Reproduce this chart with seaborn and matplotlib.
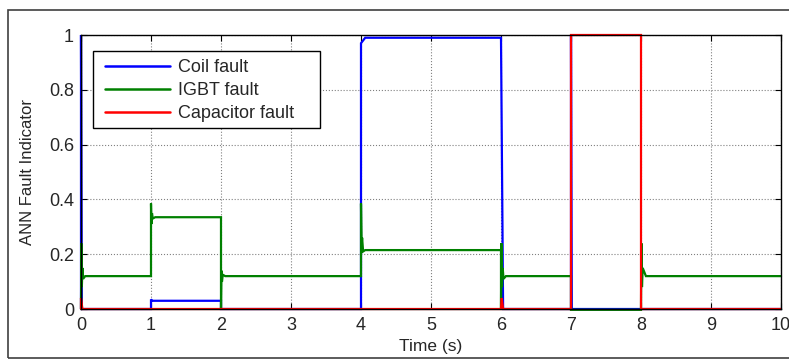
import numpy as np
import pandas as pd
import matplotlib
matplotlib.use("Agg")
import matplotlib.pyplot as plt
import seaborn as sns
from matplotlib.patches import Rectangle
from matplotlib.lines import Line2D

# ---- data ----
series_names = ["Coil fault", "IGBT fault", "Capacitor fault"]
series_colors = ["#0000FF", "#008000", "#FF0000"]

t_coil = [0.0, 0.0, 0.01, 1.0, 1.0, 1.02, 2.0, 2.0, 4.0, 4.0, 4.06, 6.0, 6.03, 7.0, 7.0, 7.01, 10.0]
v_coil = [0.0, 1.0, 0.0, 0.0, 0.035, 0.03, 0.03, 0.0, 0.0, 0.97, 0.99, 0.99, 0.0, 0.0, 1.0, 0.0, 0.0]

t_igbt = [0.0, 0.005, 0.012, 0.02, 0.03, 0.06, 1.0, 1.0, 1.006, 1.014, 1.025, 1.06, 2.0, 2.0, 2.006, 2.014, 2.025, 2.06,
          4.0, 4.0, 4.008, 4.016, 4.03, 4.06, 6.0, 6.0, 6.006, 6.014, 6.024, 6.036, 6.07, 7.0, 7.0, 8.0, 8.0, 8.006,
          8.014, 8.024, 8.07, 10.0]
v_igbt = [0.0, 0.24, 0.08, 0.15, 0.11, 0.12, 0.12, 0.385, 0.31, 0.35, 0.33, 0.335, 0.335, 0.0, 0.14, 0.10, 0.125, 0.12,
          0.12, 0.385, 0.23, 0.26, 0.21, 0.215, 0.215, 0.0, 0.24, 0.08, 0.15, 0.11, 0.12, 0.12, -0.003, -0.003, 0.0, 0.24,
          0.08, 0.15, 0.12, 0.12]

t_cap = [0.0, 0.0, 0.02, 6.0, 6.01, 6.03, 7.0, 7.0, 8.0, 8.0, 10.0]
v_cap = [0.0, 0.04, 0.0, 0.0, 0.04, 0.0, 0.0, 1.0, 1.0, 0.0, 0.0]

x_ticks = [0, 1, 2, 3, 4, 5, 6, 7, 8, 9, 10]
y_ticks = [0, 0.2, 0.4, 0.6, 0.8, 1]
y_tick_labels = ["0", "0.2", "0.4", "0.6", "0.8", "1"]

frames = []
for name, t, v in zip(series_names, [t_coil, t_igbt, t_cap], [v_coil, v_igbt, v_cap]):
    frames.append(pd.DataFrame({"t": t, "v": v, "series": name}))
df = pd.concat(frames, ignore_index=True)

sns.set_theme(style="white")
plt.rcParams["font.family"] = ["Liberation Sans", "DejaVu Sans"]

W, H = 789, 359
fig = plt.figure(figsize=(W / 100, H / 100), dpi=100)
ax_l, ax_t, ax_r, ax_b = 81, 35, 781, 309
ax = fig.add_axes([ax_l / W, 1 - ax_b / H, (ax_r - ax_l) / W, (ax_b - ax_t) / H])

# outer frame
fig.patches.append(Rectangle((8 / W, 1.5 / H), 1.2, 348 / H, transform=fig.transFigure,
                             fill=False, edgecolor="#404040", linewidth=1.2))

sns.lineplot(data=df, x="t", y="v", hue="series", hue_order=series_names,
             palette=dict(zip(series_names, series_colors)), estimator=None, sort=False,
             units="series", linewidth=1.6, ax=ax, legend=False)
for ln in ax.lines:
    ln.set_clip_on(False)
    ln.set_solid_joinstyle("miter")

ax.set_xlim(0, 10)
ax.set_ylim(0, 1)
ax.set_xticks(x_ticks)
ax.set_xticklabels([str(x) for x in x_ticks])
ax.set_yticks(y_ticks)
ax.set_yticklabels(y_tick_labels)
ax.tick_params(direction="in", length=4, width=0.8, color="black", top=True, right=True,
               labelsize=13, pad=5, bottom=True, left=True)
ax.tick_params(axis="x", pad=6)
ax.grid(True, linestyle=":", color="#808080", linewidth=0.8)
for s in ax.spines.values():
    s.set_color("black")
    s.set_linewidth(1.0)
    s.set_visible(True)

ax.set_xlabel("Time (s)", fontsize=12.5, labelpad=3)
ax.set_ylabel("ANN Fault Indicator", fontsize=12, labelpad=10)

# legend: box drawn manually (MATLAB style with wide right padding)
aw, ah = ax_r - ax_l, ax_b - ax_t
box_l, box_t, box_r, box_b = 93, 51, 320, 128
ax.add_patch(Rectangle(((box_l - ax_l) / aw, 1 - (box_b - ax_t) / ah),
                       (box_r - box_l) / aw, (box_b - box_t) / ah, transform=ax.transAxes,
                       facecolor="white", edgecolor="black", linewidth=1.0, zorder=4, clip_on=False))
handles = [Line2D([], [], color=c, linewidth=1.8) for c in series_colors]
leg = ax.legend(handles, series_names, loc="upper left",
                bbox_to_anchor=((box_l + 4 - ax_l) / aw, 1 - (box_t - ax_t) / ah),
                borderaxespad=0, frameon=False, fontsize=13, handlelength=3.6,
                handletextpad=0.45, labelspacing=0.33, borderpad=0.45)
leg.set_zorder(5)

fig.savefig("out.png", dpi=100)
